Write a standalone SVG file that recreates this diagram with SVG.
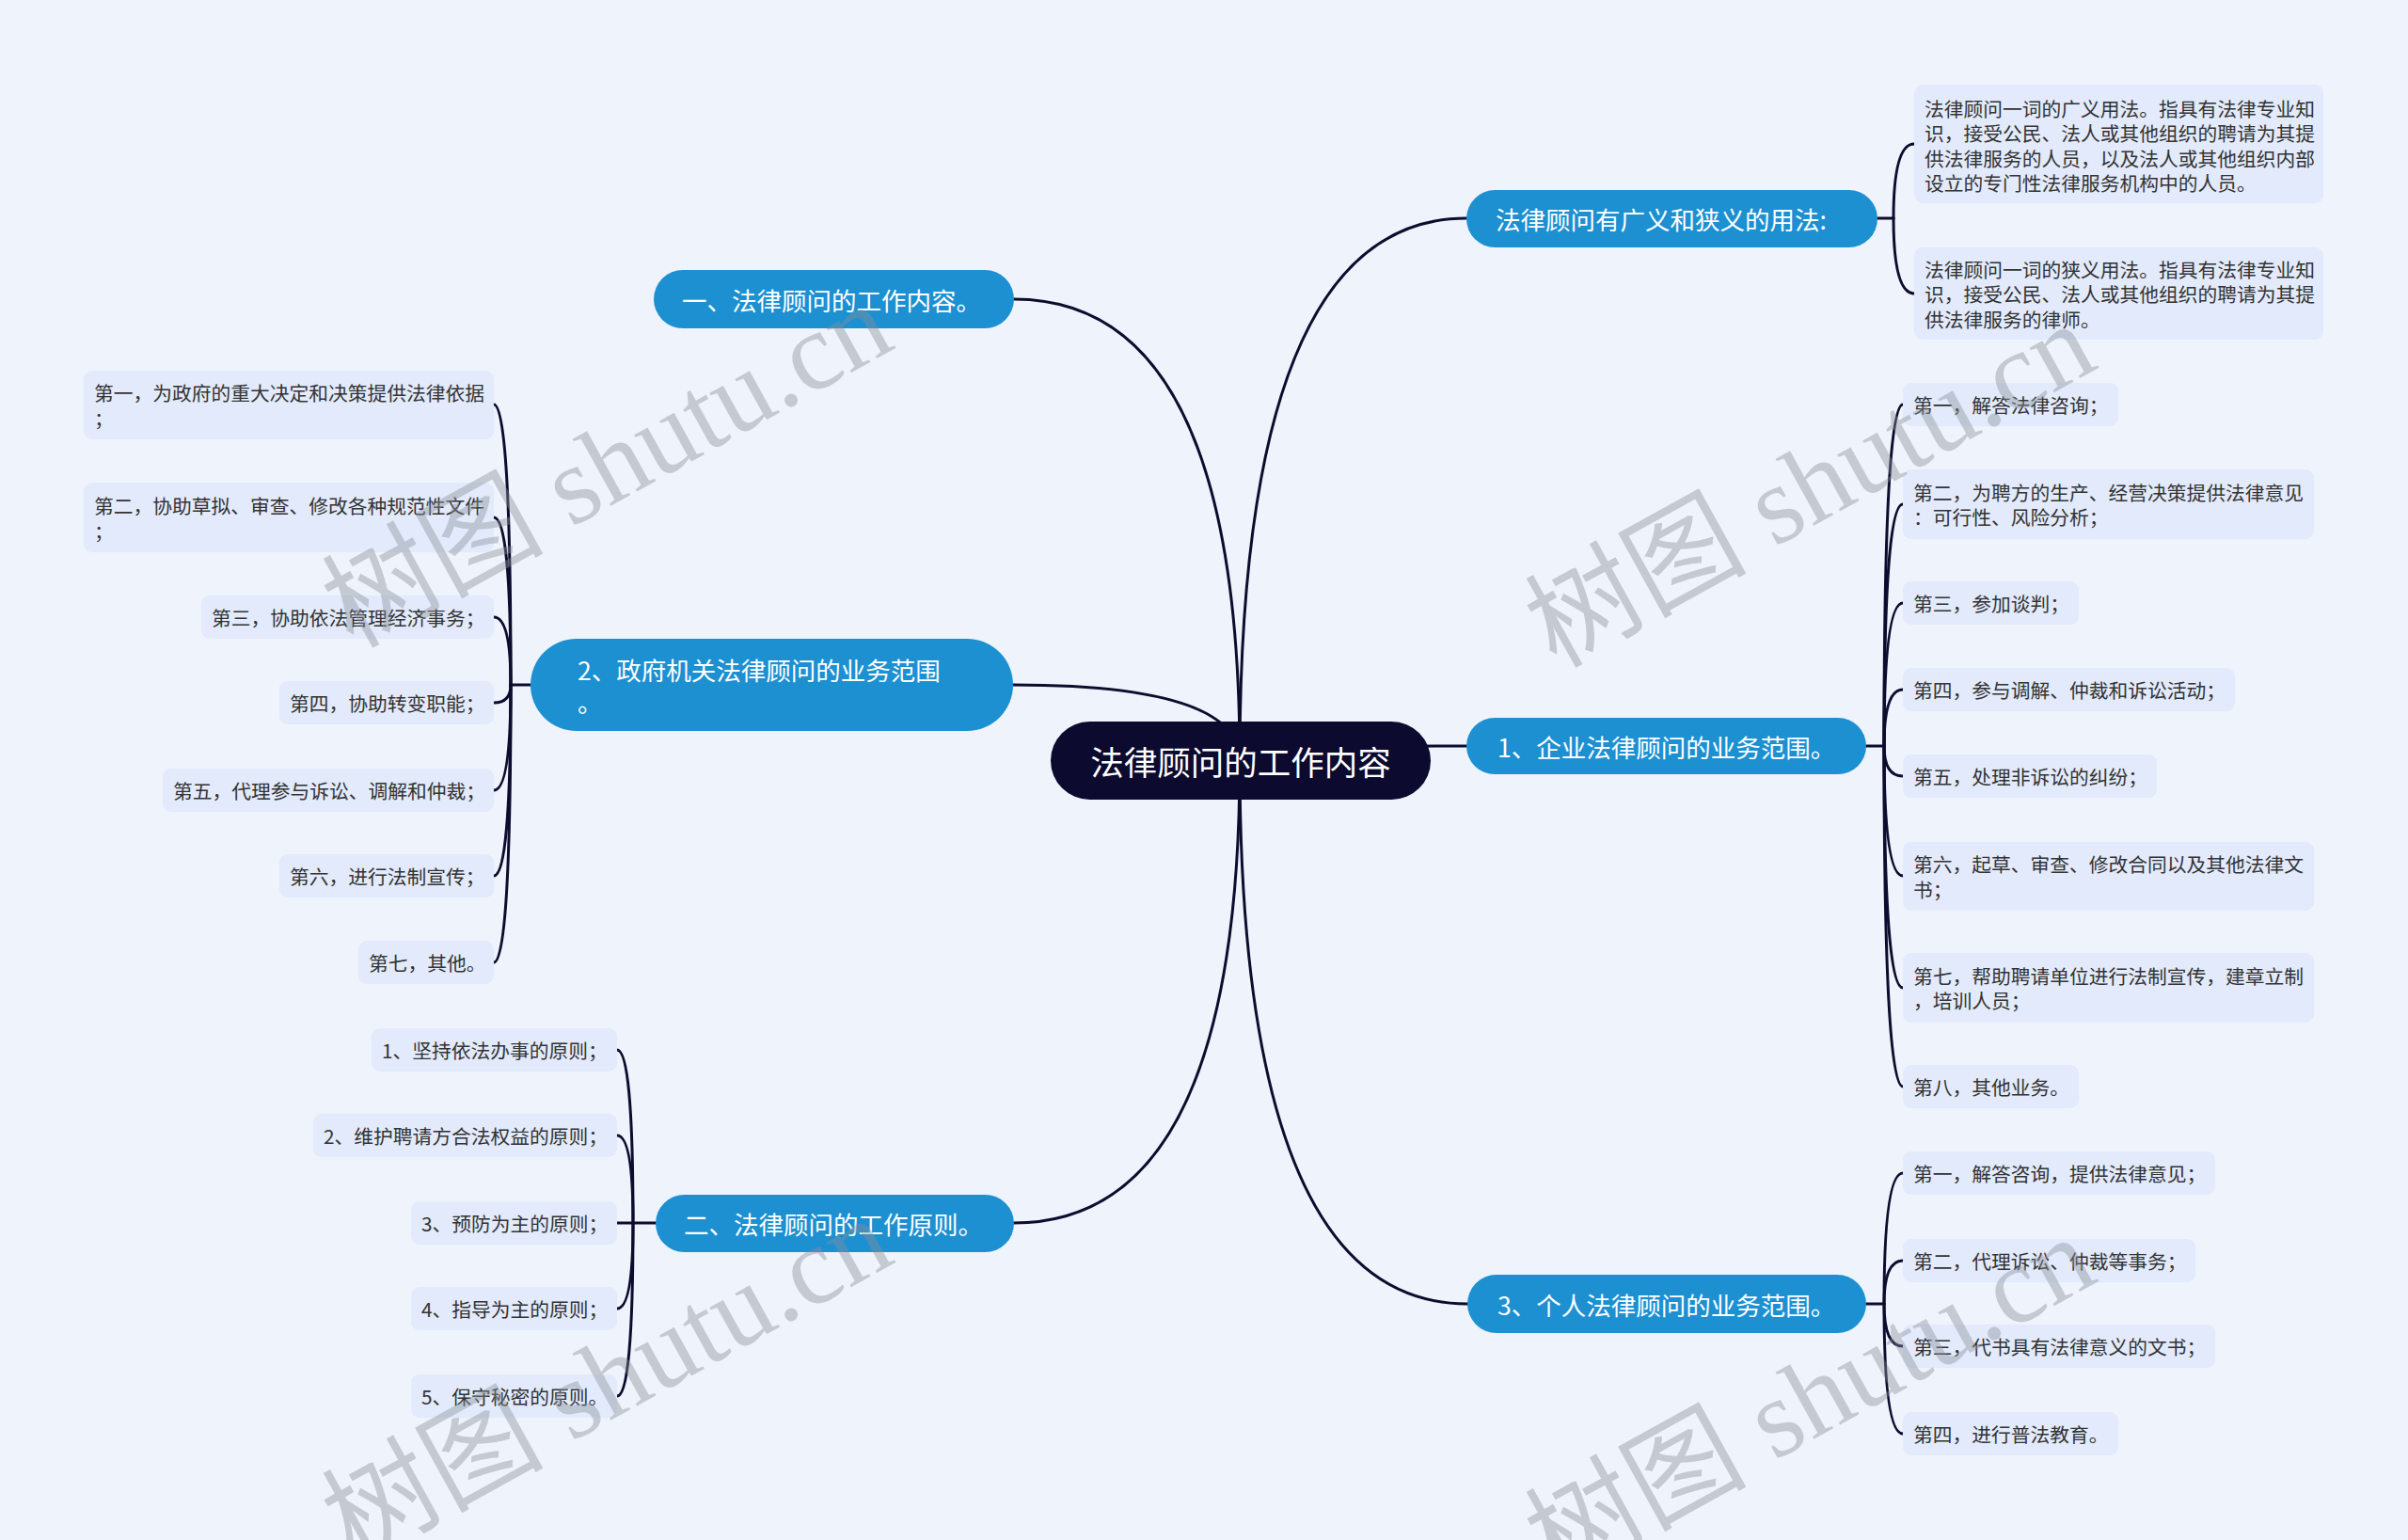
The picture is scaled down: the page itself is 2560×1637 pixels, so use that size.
<svg xmlns="http://www.w3.org/2000/svg" width="2560" height="1637" viewBox="0 0 2560 1637">
<style>
.bg{fill:#eef3fc}
.wm{font-family:"Liberation Serif","Noto Sans CJK SC",serif;font-size:118px;fill:#8a8f99;fill-opacity:0.42}
.c{fill:none;stroke:#0e0c2e;stroke-width:3;stroke-linecap:round}
.root rect{fill:#0c0a2e}
.root text{font-family:"Noto Sans CJK SC",sans-serif;font-size:35.5px;fill:#ffffff;dominant-baseline:central}
.br rect{fill:#1d90d2}
.br text{font-family:"Noto Sans CJK SC",sans-serif;font-size:26.5px;fill:#ffffff;dominant-baseline:central}
.lf rect{fill:#e2eafb}
.lf text{font-family:"Noto Sans CJK SC",sans-serif;font-size:20.75px;fill:#333333;dominant-baseline:central}
</style>
<rect class="bg" x="0" y="0" width="2560" height="1637"/>

<g id="connectors">
  <!-- root to branches -->
  <path class="c" d="M1318 808 Q1318 318 1078 318"/>
  <path class="c" d="M1318 808 Q1318 728 1077 728"/>
  <path class="c" d="M1318 808 Q1318 1300 1078 1300"/>
  <path class="c" d="M1318 808 Q1318 232 1559 232"/>
  <path class="c" d="M1318 808 Q1318 793 1559 793"/>
  <path class="c" d="M1318 808 Q1318 1386 1560 1386"/>
  <!-- gov leaves -->
  <path class="c" d="M564 728 L543 728"/>
  <path class="c" d="M543 728 Q543 430 525 430"/>
  <path class="c" d="M543 728 Q543 550 525 550"/>
  <path class="c" d="M543 728 Q543 656 525 656"/>
  <path class="c" d="M543 728 Q543 747 525 747"/>
  <path class="c" d="M543 728 Q543 840 525 840"/>
  <path class="c" d="M543 728 Q543 931 525 931"/>
  <path class="c" d="M543 728 Q543 1023 525 1023"/>
  <!-- principles leaves -->
  <path class="c" d="M697 1300 L673 1300"/>
  <path class="c" d="M673 1300 Q673 1116 656 1116"/>
  <path class="c" d="M673 1300 Q673 1207 656 1207"/>
  <path class="c" d="M673 1300 L656 1300"/>
  <path class="c" d="M673 1300 Q673 1391 656 1391"/>
  <path class="c" d="M673 1300 Q673 1484 656 1484"/>
  <!-- broad/narrow leaves -->
  <path class="c" d="M1996 232 L2013 232"/>
  <path class="c" d="M2013 232 Q2013 153 2035 153"/>
  <path class="c" d="M2013 232 Q2013 312 2035 312"/>
  <!-- enterprise leaves -->
  <path class="c" d="M1984 793 L2003 793"/>
  <path class="c" d="M2003 793 Q2003 430 2023 430"/>
  <path class="c" d="M2003 793 Q2003 536 2023 536"/>
  <path class="c" d="M2003 793 Q2003 641 2023 641"/>
  <path class="c" d="M2003 793 Q2003 733 2023 733"/>
  <path class="c" d="M2003 793 Q2003 825 2023 825"/>
  <path class="c" d="M2003 793 Q2003 931 2023 931"/>
  <path class="c" d="M2003 793 Q2003 1050 2023 1050"/>
  <path class="c" d="M2003 793 Q2003 1155 2023 1155"/>
  <!-- personal leaves -->
  <path class="c" d="M1984 1386 L2003 1386"/>
  <path class="c" d="M2003 1386 Q2003 1247 2023 1247"/>
  <path class="c" d="M2003 1386 Q2003 1340 2023 1340"/>
  <path class="c" d="M2003 1386 Q2003 1431 2023 1431"/>
  <path class="c" d="M2003 1386 Q2003 1524 2023 1524"/>
</g>

<g id="root" class="root"><rect x="1117" y="767" width="404" height="83" rx="41.5"/><text x="1319" y="808.5" text-anchor="middle">法律顾问的工作内容</text></g>

<g id="b1" class="br"><rect x="695" y="287" width="383" height="62" rx="31"/><text x="725" y="318">一、法律顾问的工作内容。</text></g>
<g id="b2" class="br"><rect x="564" y="679" width="513" height="98" rx="49"/><text x="614" y="711">2、政府机关法律顾问的业务范围</text><text x="614" y="745">。</text></g>
<g id="b3" class="br"><rect x="697" y="1270" width="381" height="61" rx="30.5"/><text x="727" y="1300.5">二、法律顾问的工作原则。</text></g>
<g id="b4" class="br"><rect x="1559" y="202" width="437" height="61" rx="30.5"/><text x="1590" y="232.5">法律顾问有广义和狭义的用法:</text></g>
<g id="b5" class="br"><rect x="1559" y="763" width="425" height="60" rx="30"/><text x="1592" y="793">1、企业法律顾问的业务范围。</text></g>
<g id="b6" class="br"><rect x="1560" y="1355" width="424" height="62" rx="31"/><text x="1592" y="1386">3、个人法律顾问的业务范围。</text></g>

<g id="g1" class="lf"><rect x="89" y="394" width="436" height="73" rx="9"/><text x="100" y="417">第一，为政府的重大决定和决策提供法律依据</text><text x="100" y="444">；</text></g>
<g id="g2" class="lf"><rect x="89" y="513" width="436" height="74" rx="9"/><text x="100" y="537">第二，协助草拟、审查、修改各种规范性文件</text><text x="100" y="563.5">；</text></g>
<g id="g3" class="lf"><rect x="214" y="633" width="311" height="46" rx="9"/><text x="225" y="656">第三，协助依法管理经济事务；</text></g>
<g id="g4" class="lf"><rect x="297" y="724" width="228" height="46" rx="9"/><text x="308" y="747">第四，协助转变职能；</text></g>
<g id="g5" class="lf"><rect x="173" y="817" width="352" height="46" rx="9"/><text x="184" y="840">第五，代理参与诉讼、调解和仲裁；</text></g>
<g id="g6" class="lf"><rect x="297" y="908" width="228" height="46" rx="9"/><text x="308" y="931">第六，进行法制宣传；</text></g>
<g id="g7" class="lf"><rect x="381" y="1000" width="144" height="46" rx="9"/><text x="392" y="1023">第七，其他。</text></g>

<g id="p1" class="lf"><rect x="395" y="1093" width="261" height="46" rx="9"/><text x="406" y="1116">1、坚持依法办事的原则；</text></g>
<g id="p2" class="lf"><rect x="333" y="1184" width="323" height="46" rx="9"/><text x="344" y="1207">2、维护聘请方合法权益的原则；</text></g>
<g id="p3" class="lf"><rect x="437" y="1277" width="219" height="46" rx="9"/><text x="448" y="1300">3、预防为主的原则；</text></g>
<g id="p4" class="lf"><rect x="437" y="1368" width="219" height="46" rx="9"/><text x="448" y="1391">4、指导为主的原则；</text></g>
<g id="p5" class="lf"><rect x="437" y="1461" width="219" height="46" rx="9"/><text x="448" y="1484">5、保守秘密的原则。</text></g>

<g id="n1" class="lf"><rect x="2035" y="90" width="435" height="126" rx="9"/><text x="2046" y="114.5">法律顾问一词的广义用法。指具有法律专业知</text><text x="2046" y="141">识，接受公民、法人或其他组织的聘请为其提</text><text x="2046" y="167.7">供法律服务的人员，以及法人或其他组织内部</text><text x="2046" y="194.4">设立的专门性法律服务机构中的人员。</text></g>
<g id="n2" class="lf"><rect x="2035" y="263" width="435" height="98" rx="9"/><text x="2046" y="285.5">法律顾问一词的狭义用法。指具有法律专业知</text><text x="2046" y="312">识，接受公民、法人或其他组织的聘请为其提</text><text x="2046" y="338.7">供法律服务的律师。</text></g>

<g id="e1" class="lf"><rect x="2023" y="407" width="229" height="46" rx="9"/><text x="2034" y="430">第一，解答法律咨询；</text></g>
<g id="e2" class="lf"><rect x="2023" y="499" width="437" height="74" rx="9"/><text x="2034" y="522.6">第二，为聘方的生产、经营决策提供法律意见</text><text x="2034" y="549.4">：可行性、风险分析；</text></g>
<g id="e3" class="lf"><rect x="2023" y="618" width="187" height="46" rx="9"/><text x="2034" y="641">第三，参加谈判；</text></g>
<g id="e4" class="lf"><rect x="2023" y="710" width="353" height="46" rx="9"/><text x="2034" y="733">第四，参与调解、仲裁和诉讼活动；</text></g>
<g id="e5" class="lf"><rect x="2023" y="802" width="270" height="46" rx="9"/><text x="2034" y="825">第五，处理非诉讼的纠纷；</text></g>
<g id="e6" class="lf"><rect x="2023" y="895" width="437" height="73" rx="9"/><text x="2034" y="918">第六，起草、审查、修改合同以及其他法律文</text><text x="2034" y="944.7">书；</text></g>
<g id="e7" class="lf"><rect x="2023" y="1013" width="437" height="74" rx="9"/><text x="2034" y="1036.6">第七，帮助聘请单位进行法制宣传，建章立制</text><text x="2034" y="1063.4">，培训人员；</text></g>
<g id="e8" class="lf"><rect x="2023" y="1132" width="187" height="46" rx="9"/><text x="2034" y="1155">第八，其他业务。</text></g>

<g id="r1" class="lf"><rect x="2023" y="1224" width="332" height="46" rx="9"/><text x="2034" y="1247">第一，解答咨询，提供法律意见；</text></g>
<g id="r2" class="lf"><rect x="2023" y="1317" width="311" height="46" rx="9"/><text x="2034" y="1340">第二，代理诉讼、仲裁等事务；</text></g>
<g id="r3" class="lf"><rect x="2023" y="1408" width="332" height="46" rx="9"/><text x="2034" y="1431">第三，代书具有法律意义的文书；</text></g>
<g id="r4" class="lf"><rect x="2023" y="1501" width="229" height="46" rx="9"/><text x="2034" y="1524">第四，进行普法教育。</text></g>

<g id="watermarks">
  <text class="wm" text-anchor="middle" transform="translate(647 498) rotate(-29)" y="36">树图 shutu.cn</text>
  <text class="wm" text-anchor="middle" transform="translate(1926 519) rotate(-29)" y="36">树图 shutu.cn</text>
  <text class="wm" text-anchor="middle" transform="translate(647 1470) rotate(-29)" y="36">树图 shutu.cn</text>
  <text class="wm" text-anchor="middle" transform="translate(1926 1490) rotate(-29)" y="36">树图 shutu.cn</text>
</g>
</svg>
